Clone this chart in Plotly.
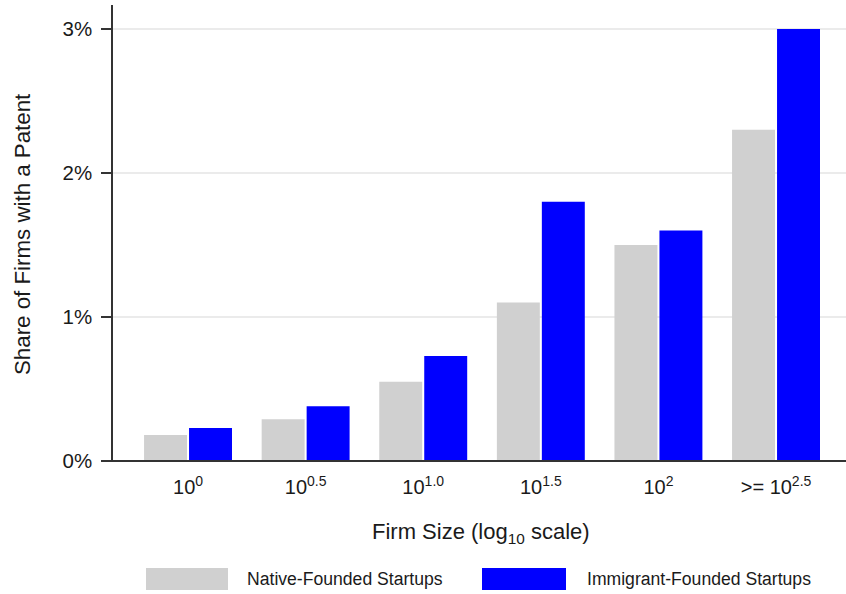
import plotly.graph_objects as go

categories = ["10<sup>0</sup>", "10<sup>0.5</sup>", "10<sup>1.0</sup>", "10<sup>1.5</sup>", "10<sup>2</sup>", "&gt;= 10<sup>2.5</sup>"]
native = [0.18, 0.29, 0.55, 1.10, 1.50, 2.30]
immigrant = [0.23, 0.38, 0.73, 1.80, 1.60, 3.00]
series_names = ["Native-Founded Startups", "Immigrant-Founded Startups"]
colors = ["#D0D0D0", "#0000FF"]
y_ticks = [0, 1, 2, 3]
y_ticklabels = ["0%", "1%", "2%", "3%"]

xpos = list(range(len(categories)))
FONT = "Liberation Sans, Arial, sans-serif"
TXT = "#1a1a1a"

fig = go.Figure()
fig.add_trace(go.Bar(x=xpos, y=native, name=series_names[0], marker=dict(color=colors[0], line=dict(width=0))))
fig.add_trace(go.Bar(x=xpos, y=immigrant, name=series_names[1], marker=dict(color=colors[1], line=dict(width=0))))

W, H = 846, 594
ml, mr, mt, mb = 113, 0, 5, 133
pw, ph = W - ml - mr, H - mt - mb

def px_x(p):
    return (p - ml) / pw

def px_y(p):
    return (H - mb - p) / ph

fig.update_layout(
    width=W, height=H,
    margin=dict(l=ml, r=mr, t=mt, b=mb),
    paper_bgcolor="white", plot_bgcolor="white",
    barmode="group", bargap=0.235, bargroupgap=0.045,
    showlegend=False,
    font=dict(family=FONT, color=TXT),
    xaxis=dict(
        range=[-0.638, 5.595],
        tickvals=xpos, ticktext=categories,
        ticks="", showgrid=False, zeroline=False,
        showline=False,
        tickfont=dict(size=20, family=FONT, color=TXT),
        ticklabelstandoff=12,
    ),
    yaxis=dict(
        range=[0, 3.167],
        tickvals=y_ticks, ticktext=y_ticklabels,
        ticks="outside", ticklen=10, tickwidth=1.5, tickcolor="#333333",
        showline=True, linecolor="#333333", linewidth=1.5,
        showgrid=True, gridcolor="#EBEBEB", gridwidth=1.5,
        zeroline=False,
        tickfont=dict(size=20.5, family=FONT, color=TXT),
        ticklabelstandoff=5,
    ),
)

# bottom axis line (extends slightly left of the y axis, as in the reference)
fig.add_shape(type="line", xref="paper", yref="paper", x0=px_x(103), x1=1, y0=0, y1=0,
              line=dict(color="#333333", width=2))

# y-axis title
fig.add_annotation(text="Share of Firms with a Patent", xref="paper", yref="paper",
                   x=px_x(22), y=px_y(234), xanchor="center", yanchor="middle", textangle=-90,
                   showarrow=False, font=dict(size=22.3, family=FONT, color=TXT))

# x-axis title
fig.add_annotation(text="Firm Size (log<sub>10</sub> scale)", xref="paper", yref="paper",
                   x=px_x(481), y=px_y(533), xanchor="center", yanchor="middle", showarrow=False,
                   font=dict(size=22, family=FONT, color=TXT))

# legend drawn below the plot
legend_items = [
    (146, 228, 245),
    (482, 566, 585),
]
for (sx0, sx1, tx), name, col in zip(legend_items, series_names, colors):
    fig.add_shape(type="rect", xref="paper", yref="paper",
                  x0=px_x(sx0), x1=px_x(sx1), y0=px_y(590), y1=px_y(568),
                  fillcolor=col, line=dict(width=0))
    fig.add_annotation(text=name, xref="paper", yref="paper", x=px_x(tx), y=px_y(579),
                       xanchor="left", yanchor="middle", showarrow=False,
                       font=dict(size=17.6, family=FONT, color=TXT))

fig.write_html("out.html", config={"displayModeBar": False})

# remove the browser's default page margin so the figure fills the window exactly
with open("out.html", "r", encoding="utf-8") as f:
    html = f.read()
html = html.replace("<head>", "<head><style>html,body{margin:0;padding:0;overflow:hidden;}</style>", 1)
with open("out.html", "w", encoding="utf-8") as f:
    f.write(html)
